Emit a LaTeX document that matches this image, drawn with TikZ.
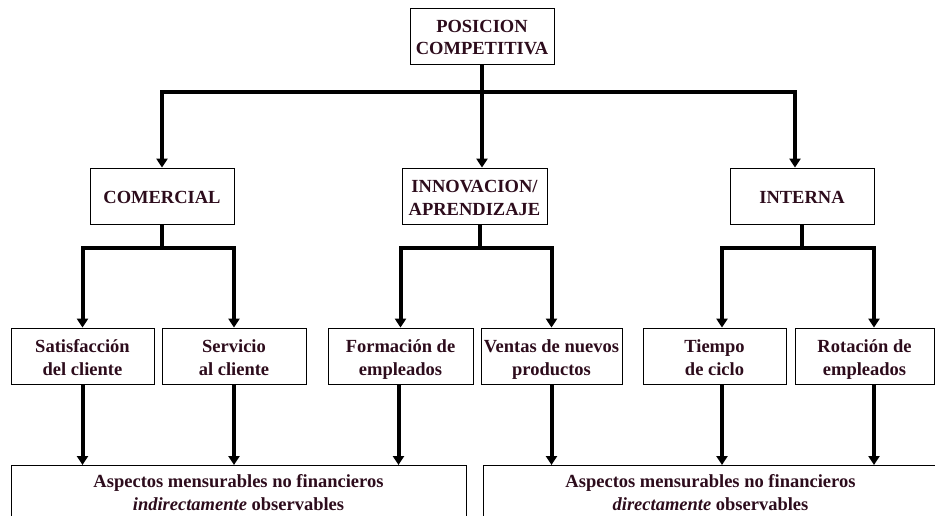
\documentclass[tikz,border=0pt]{standalone}
\usepackage{fontspec}
\setmainfont{Liberation Serif}
\usetikzlibrary{arrows.meta}
\definecolor{boxtext}{RGB}{45,12,28}
\newcommand{\tstrut}{\rule{0pt}{19pt}}
\newcommand{\bstrut}{\rule[-4pt]{0pt}{4pt}}
\newcommand{\deepstrut}{\rule[-22pt]{0pt}{22pt}}
\tikzset{>={Triangle[width=11pt,length=9pt]}}
\tikzset{
  box/.style={draw, line width=0.8pt, text=boxtext, font=\bfseries\fontsize{18.5}{23}\selectfont, align=center, minimum width=144pt, minimum height=56pt, inner xsep=0pt, inner ysep=2pt},
  wide/.style={box, minimum width=455pt, minimum height=0pt, inner ysep=3pt, anchor=north},
  link/.style={->, line width=4pt},
  stem/.style={line width=4pt}
}

\begin{document}
\begin{tikzpicture}[x=1pt, y=-1pt]
\useasboundingbox (0,0) rectangle (935,516);
\clip (0,0) rectangle (935,516);

\node[box, font=\bfseries\fontsize{18.5}{22}\selectfont] (pos) at (482,36) {\tstrut POSICION\\COMPETITIVA\bstrut};

\node[box] (com) at (162,196) {\tstrut COMERCIAL\bstrut};
\node[box, minimum width=145pt] (inn) at (474.5,196) {\tstrut INNOVACION/\\APRENDIZAJE\bstrut};
\node[box] (int) at (802,196) {\tstrut INTERNA\bstrut};

\node[box, minimum width=143pt] (sat) at (82.5,356) {\tstrut Satisfacción\\del cliente\bstrut};
\node[box] (serv) at (234,356) {\tstrut Servicio\\al cliente\bstrut};
\node[box, minimum width=145pt] (form) at (400.5,356) {\tstrut Formación de\\empleados\bstrut};
\node[box, minimum width=141pt] (vent) at (551.5,356) {\tstrut Ventas de nuevos\\productos\bstrut};
\node[box, minimum width=143pt] (tiem) at (714.5,356) {\tstrut Tiempo\\de ciclo\bstrut};
\node[box, minimum width=139pt] (rot) at (864.5,356) {\tstrut Rotación de\\empleados\bstrut};

\node[wide] (ind) at (238.5,465) {\tstrut Aspectos mensurables no financieros\\\textit{indirectamente} observables\deepstrut};
\node[wide] (dir) at (710.5,465) {\tstrut Aspectos mensurables no financieros\\\textit{directamente} observables\deepstrut};

\coordinate (bus1) at ([yshift=-28pt]pos.south);
\draw[stem] (pos.south) -- (bus1);
\draw[link] (bus1) -| (com.north);
\draw[link] (bus1) -- (bus1 |- inn.north);
\draw[link] (bus1) -| ([xshift=-7pt]int.north);

\coordinate (bus2) at ([yshift=-24pt]com.south);
\draw[stem] (com.south) -- (bus2);
\draw[link] (bus2) -| (sat.north);
\draw[link] (bus2) -| (serv.north);

\coordinate (bus3) at ([xshift=5.5pt, yshift=-24pt]inn.south);
\draw[stem] ([xshift=5.5pt]inn.south) -- (bus3);
\draw[link] (bus3) -| (form.north);
\draw[link] (bus3) -| (vent.north);

\coordinate (bus4) at ([yshift=-24pt]int.south);
\draw[stem] (int.south) -- (bus4);
\draw[link] (bus4) -| ([xshift=7.5pt]tiem.north);
\draw[link] (bus4) -| ([xshift=9.5pt]rot.north);

\draw[link] (sat.south) -- (sat.south |- ind.north);
\draw[link] (serv.south) -- (serv.south |- ind.north);
\draw[link] ([xshift=-2pt]form.south) -- ([xshift=-2pt]form.south |- ind.north);
\draw[link] (vent.south) -- (vent.south |- dir.north);
\draw[link] ([xshift=7.5pt]tiem.south) -- ([xshift=7.5pt]tiem.south |- dir.north);
\draw[link] ([xshift=9.5pt]rot.south) -- ([xshift=9.5pt]rot.south |- dir.north);
\end{tikzpicture}
\end{document}
